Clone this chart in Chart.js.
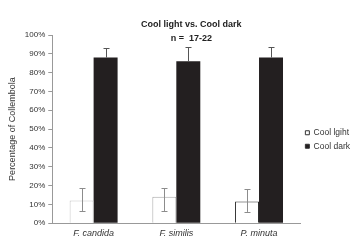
<!DOCTYPE html>
<html lang="en">
<head>
  <meta charset="UTF-8" />
  <title>Cool light vs. Cool dark</title>
  <script src="https://cdn.jsdelivr.net/npm/chart.js"></script>
  <style>
    html,body{margin:0;padding:0;background:#fff;}
    #wrap{width:360px;height:244px;position:relative;}
  </style>
</head>
<body>
<div id="wrap"><canvas id="chart"></canvas></div>

<script>
/* ---- data ---- */
const species      = ['F. candida', 'F. similis', 'P. minuta'];
const lightValues  = [12, 14, 11.5];
const lightErrUp   = [6.5, 4.5, 6.5];
const lightErrDown = [5.5, 7.5, 5.5];
const darkValues   = [88, 86, 88];
const darkErrUp    = [5, 7.5, 5.5];
const darkErrDown  = [0, 0, 0];   // lower half hidden behind the bar
const titleLines   = ['Cool light vs. Cool dark', 'n =  17-22'];

const FONT = "'Liberation Sans', Arial, sans-serif";
const TXT  = '#333';

/* error bars: drawn from the y scale for every bar */
const errorBars = {
  id: 'errorBars',
  afterDatasetsDraw(chart) {
    const {ctx, scales: {y}} = chart;
    chart.data.datasets.forEach((ds, i) => {
      const meta = chart.getDatasetMeta(i);
      ctx.save();
      ctx.strokeStyle = ds.errColor;
      ctx.lineWidth = 1;
      meta.data.forEach((bar, j) => {
        const v = ds.data[j];
        const top = y.getPixelForValue(v + ds.errUp[j]);
        const bot = y.getPixelForValue(v - ds.errDown[j]);
        const x = Math.round(bar.x) + 0.5;
        ctx.beginPath();
        ctx.moveTo(x, top); ctx.lineTo(x, bot);
        ctx.moveTo(x - 3, Math.round(top) + 0.5); ctx.lineTo(x + 3, Math.round(top) + 0.5);
        if (ds.errDown[j] > 0) {
          ctx.moveTo(x - 3, Math.round(bot) + 0.5); ctx.lineTo(x + 3, Math.round(bot) + 0.5);
        }
        ctx.stroke();
      });
      ctx.restore();
    });
  }
};

/* title sits over the top of the plot area, like the original */
const overTitle = {
  id: 'overTitle',
  afterDraw(chart) {
    const {ctx, chartArea} = chart;
    const cx = (chartArea.left + chartArea.right) / 2 + 15;
    ctx.save();
    ctx.fillStyle = '#222';
    ctx.font = `bold 9px ${FONT}`;
    ctx.textAlign = 'center';
    ctx.textBaseline = 'middle';
    ctx.fillText(titleLines[0], cx, chartArea.top - 10);
    ctx.fillText(titleLines[1], cx, chartArea.top + 4);
    ctx.restore();
  }
};

new Chart(document.getElementById('chart'), {
  type: 'bar',
  data: {
    labels: species,
    datasets: [
      {
        label: 'Cool lgiht',
        data: lightValues,
        errUp: lightErrUp, errDown: lightErrDown, errColor: '#8c8c8c',
        backgroundColor: '#ffffff',
        borderColor: ['#c8c8c8', '#a8a8a8', '#2a2a2a'],
        borderWidth: 1
      },
      {
        label: 'Cool dark',
        data: darkValues,
        errUp: darkErrUp, errDown: darkErrDown, errColor: '#555',
        backgroundColor: '#231f20',
        borderWidth: 0
      }
    ]
  },
  options: {
    responsive: true,
    maintainAspectRatio: false,
    animation: false,
    layout: {padding: {top: 35, bottom: 0, left: 7, right: 0}},
    datasets: {bar: {categoryPercentage: 0.58, barPercentage: 1}},
    scales: {
      x: {
        grid: {display: false, drawTicks: false},
        border: {color: '#999'},
        ticks: {color: TXT, padding: 5, font: {family: FONT, size: 9, style: 'italic'}}
      },
      y: {
        min: 0, max: 100,
        grid: {drawOnChartArea: false, drawTicks: true, tickLength: 4, color: '#999'},
        border: {color: '#999'},
        ticks: {stepSize: 10, color: TXT, padding: 3,
                font: {family: FONT, size: 8},
                callback: v => v + '%'},
        title: {display: true, text: 'Percentage of Collembola', color: TXT,
                padding: {top: 0, bottom: 4}, font: {family: FONT, size: 9}}
      }
    },
    plugins: {
      title: {display: false},
      tooltip: {enabled: false},
      legend: {
        position: 'right',
        labels: {
          boxWidth: 4, boxHeight: 4, padding: 5, color: TXT,
          font: {family: FONT, size: 8.5},
          generateLabels: chart =>
            Chart.defaults.plugins.legend.labels.generateLabels(chart)
              .map(l => ({...l, strokeStyle: '#333', lineWidth: 1}))
        }
      }
    }
  },
  plugins: [errorBars, overTitle]
});
</script>
</body>
</html>
